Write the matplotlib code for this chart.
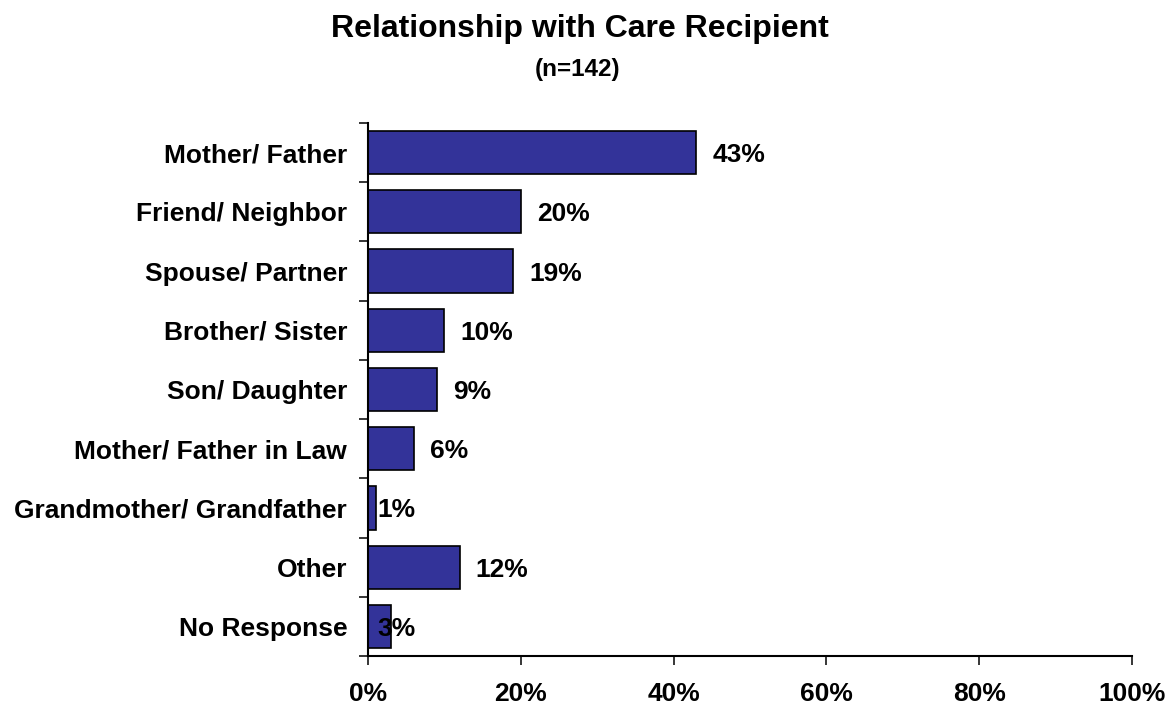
import matplotlib.pyplot as plt
import numpy as np

categories = [
    "Mother/ Father",
    "Friend/ Neighbor",
    "Spouse/ Partner",
    "Brother/ Sister",
    "Son/ Daughter",
    "Mother/ Father in Law",
    "Grandmother/ Grandfather",
    "Other",
    "No Response",
]
shares = [43, 20, 19, 10, 9, 6, 1, 12, 3]
x_ticks = [0, 20, 40, 60, 80, 100]

plt.rcParams["font.family"] = ["Liberation Sans", "DejaVu Sans"]
plt.rcParams["font.weight"] = "bold"

fig = plt.figure(figsize=(11.66, 7.07), dpi=100)
ax = fig.add_axes([0.3156, 0.0721, 0.6552, 0.7539])

y = np.arange(len(categories))
ax.barh(y, shares, height=0.73, color="#333399", edgecolor="black", linewidth=1.2)

# small bars get their label tucked against the axis, like the original
for yi, v in zip(y, shares):
    lx = v + 2.1 if v >= 5 else 1.2
    ax.text(lx, yi, f"{v}%", va="center_baseline", ha="left", fontsize=19,
            fontweight="bold")

ax.set_xlim(0, 100)
ax.set_ylim(len(categories) - 0.5, -0.5)
ax.set_xticks(x_ticks)
ax.set_xticklabels([f"{t}%" for t in x_ticks], fontsize=19, fontweight="bold")
ax.set_yticks(y)
ax.set_yticklabels(categories, fontsize=19, fontweight="bold")
ax.set_yticks(np.arange(len(categories) + 1) - 0.5, minor=True)
ax.tick_params(axis="y", which="major", length=0, pad=15)
ax.tick_params(axis="y", which="minor", length=6.5, width=1.1, direction="out")
ax.tick_params(axis="x", length=6.5, width=1.1, direction="out", pad=12)

for side in ("top", "right"):
    ax.spines[side].set_visible(False)
for side in ("left", "bottom"):
    ax.spines[side].set_linewidth(1.5)

fig.text(0.497, 0.9477, "Relationship with Care Recipient", ha="center", va="baseline",
         fontsize=23, fontweight="bold")
fig.text(0.495, 0.8925, "(n=142)", ha="center", va="baseline", fontsize=17.5,
         fontweight="bold")

fig.savefig("out.png", dpi=100)
